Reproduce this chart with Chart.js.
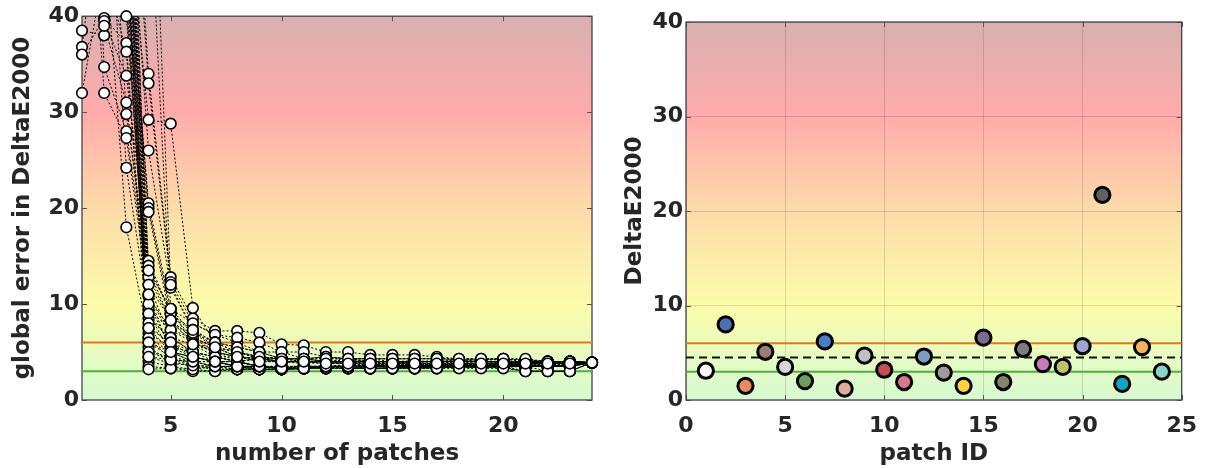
<!DOCTYPE html>
<html>
<head>
<meta charset="utf-8">
<script src="https://cdn.jsdelivr.net/npm/chart.js@4.4.1/dist/chart.umd.min.js"></script>
<style>
  body { margin: 0; background: #fff; }
  .panel { position: absolute; top: 0; width: 605px; height: 468px; }
</style>
</head>
<body>
<div class="panel" style="left:0"><canvas id="left"></canvas></div>
<div class="panel" style="left:605px"><canvas id="right"></canvas></div>
<script>
// number of patches used for the global error (left panel)
const nPatches = [1, 2, 3, 4, 5, 6, 7, 8, 9, 10, 11, 12, 13, 14, 15, 16, 17, 18, 19, 20, 21, 22, 23, 24];

// one row per run (above 40 is off the chart)
const globalErrorRuns = [
    [120, 85, 60, 12.8, 8.3, 6.5, 5.5, 5.0, 4.5, 4.3, 4.3, 4.0, 4.2, 4.0, 4.0, 4.1, 3.9, 3.9, 3.8, 3.9, 3.9, 4.0, 3.9, 3.9],
    [95, 70, 55, 9.5, 7.3, 6.0, 5.0, 4.5, 4.3, 4.3, 4.0, 4.0, 3.9, 3.8, 3.8, 4.0, 4.0, 3.9, 4.0, 3.9, 3.8, 3.9, 4.0, 3.9],
    [38.5, 38.0, 48, 7.0, 5.5, 5.0, 4.5, 4.0, 3.5, 3.2, 3.3, 3.5, 3.5, 3.3, 3.4, 3.5, 3.6, 3.7, 3.6, 3.8, 3.5, 3.5, 3.6, 3.9],
    [36.8, 55, 44, 5.0, 4.2, 4.0, 3.5, 3.5, 3.2, 3.2, 3.3, 3.5, 3.5, 3.6, 3.4, 3.4, 3.6, 3.6, 3.6, 3.5, 3.5, 3.6, 3.5, 3.9],
    [36.0, 39.8, 37.2, 4.5, 3.8, 3.6, 3.5, 3.2, 3.2, 3.2, 3.3, 3.5, 3.5, 3.3, 3.3, 3.3, 3.5, 3.5, 3.4, 3.5, 3.0, 3.0, 3.0, 3.9],
    [32.0, 45, 36.3, 6.0, 5.0, 4.5, 4.0, 3.5, 3.5, 3.3, 3.5, 3.5, 3.5, 3.5, 3.6, 3.5, 3.7, 3.6, 3.6, 3.7, 3.7, 3.8, 3.8, 3.9],
    [70, 39.5, 33.8, 14.5, 9.0, 7.3, 6.0, 5.0, 4.3, 4.3, 4.3, 4.0, 4.3, 4.0, 3.9, 4.0, 4.1, 4.0, 4.1, 4.3, 4.0, 4.0, 3.9, 3.9],
    [88, 39.0, 31.0, 11.0, 6.5, 5.8, 5.0, 4.5, 4.3, 4.0, 4.0, 4.0, 3.9, 4.0, 4.0, 4.0, 4.0, 4.0, 4.0, 4.0, 4.0, 3.9, 3.9, 3.9],
    [110, 66, 29.8, 13.5, 9.5, 8.0, 6.8, 6.0, 5.0, 4.3, 4.3, 4.5, 4.3, 4.3, 4.0, 4.0, 4.0, 4.2, 4.0, 4.0, 3.9, 3.9, 4.0, 3.9],
    [80, 34.7, 28.0, 12.0, 8.3, 6.5, 5.5, 4.5, 4.3, 4.0, 3.8, 3.9, 4.0, 4.0, 4.0, 3.8, 3.8, 3.8, 3.8, 3.9, 3.9, 3.9, 4.0, 3.9],
    [65, 32.0, 27.3, 10.8, 7.3, 6.5, 5.5, 5.0, 4.3, 4.0, 4.0, 4.0, 3.9, 3.9, 3.8, 3.8, 3.7, 3.8, 3.7, 3.8, 3.9, 3.8, 3.8, 3.9],
    [140, 90, 40.0, 8.5, 6.5, 5.0, 4.5, 4.0, 3.5, 3.3, 3.3, 3.3, 3.5, 3.3, 3.3, 3.4, 3.3, 3.5, 3.4, 3.5, 3.5, 3.5, 3.5, 3.9],
    [100, 60, 24.2, 9.0, 6.0, 4.5, 4.0, 4.0, 3.5, 3.3, 3.3, 3.5, 3.5, 3.5, 3.5, 3.6, 3.6, 3.6, 3.6, 3.6, 3.6, 3.5, 3.7, 3.9],
    [75, 48, 18.0, 6.5, 5.0, 4.0, 3.5, 3.2, 3.2, 3.2, 3.3, 3.3, 3.4, 3.3, 3.3, 3.3, 3.4, 3.5, 3.5, 3.5, 3.5, 3.5, 3.5, 3.9],
    [130, 95, 70, 34.0, 12.8, 8.5, 7.2, 7.2, 7.0, 5.8, 5.7, 5.0, 5.0, 4.7, 4.7, 4.7, 4.5, 4.3, 4.3, 4.3, 4.0, 4.0, 4.0, 3.9],
    [115, 80, 65, 33.0, 12.3, 8.0, 6.8, 6.5, 6.0, 5.0, 5.0, 4.5, 4.3, 4.3, 4.3, 4.3, 4.3, 4.2, 4.2, 4.2, 4.2, 4.0, 4.0, 3.9],
    [90, 75, 52, 29.2, 28.8, 9.6, 6.0, 5.5, 5.0, 4.3, 4.3, 4.0, 4.0, 4.0, 4.0, 4.0, 4.0, 4.1, 4.0, 4.0, 4.0, 4.0, 4.0, 3.9],
    [105, 72, 58, 26.0, 11.7, 7.3, 5.5, 5.0, 4.5, 4.3, 4.0, 4.0, 4.0, 4.0, 3.9, 3.9, 4.0, 4.0, 4.0, 3.9, 3.9, 4.0, 4.0, 3.9],
    [85, 62, 47, 20.5, 9.5, 7.0, 5.5, 4.5, 4.3, 4.0, 4.0, 4.0, 3.8, 3.8, 3.8, 3.8, 3.8, 3.8, 3.8, 3.8, 3.9, 3.9, 3.9, 3.9],
    [92, 68, 50, 20.0, 9.0, 6.5, 5.0, 4.5, 4.0, 4.0, 4.0, 3.8, 3.8, 3.7, 3.7, 3.7, 3.7, 3.7, 3.7, 3.7, 3.8, 3.8, 3.8, 3.9],
    [78, 58, 43, 19.6, 8.3, 6.0, 5.0, 4.0, 3.5, 3.5, 3.5, 3.5, 3.6, 3.6, 3.6, 3.6, 3.6, 3.6, 3.6, 3.7, 3.7, 3.7, 3.7, 3.9],
    [125, 88, 62, 14.0, 9.0, 7.0, 6.0, 5.5, 5.0, 5.0, 4.3, 4.3, 4.3, 4.0, 4.0, 4.0, 4.0, 4.0, 4.0, 4.0, 4.0, 4.0, 4.0, 3.9],
    [98, 76, 66, 13.5, 8.3, 5.8, 4.5, 4.0, 3.5, 3.3, 3.3, 3.5, 3.5, 3.5, 3.5, 3.3, 3.3, 3.5, 3.5, 3.5, 3.5, 3.5, 3.6, 3.9],
    [112, 84, 57, 12.0, 6.5, 5.0, 4.0, 3.5, 3.2, 3.2, 3.3, 3.3, 3.3, 3.3, 3.3, 3.5, 3.5, 3.5, 3.5, 3.5, 3.5, 3.5, 3.6, 3.9],
    [84, 63, 46, 10.0, 5.5, 4.5, 4.0, 3.5, 3.5, 3.3, 3.3, 3.4, 3.5, 3.5, 3.4, 3.4, 3.5, 3.5, 3.5, 3.5, 3.5, 3.5, 3.5, 3.9],
    [72, 52, 41, 9.0, 5.0, 4.0, 3.5, 3.5, 3.2, 3.2, 3.3, 3.3, 3.3, 3.3, 3.3, 3.3, 3.4, 3.4, 3.4, 3.4, 3.5, 3.0, 3.0, 3.9],
    [135, 100, 75, 8.0, 5.5, 5.0, 4.5, 4.0, 4.3, 4.0, 4.0, 4.0, 4.0, 4.0, 4.0, 4.0, 4.0, 4.0, 4.0, 4.0, 4.0, 4.0, 4.0, 3.9],
    [108, 82, 53, 7.5, 5.0, 4.5, 4.0, 3.5, 3.5, 3.3, 3.5, 3.5, 3.5, 3.5, 3.6, 3.6, 3.6, 3.6, 3.6, 3.6, 3.6, 3.6, 3.7, 3.9],
    [93, 74, 45, 6.5, 4.2, 3.6, 3.2, 3.2, 3.2, 3.2, 3.3, 3.5, 3.3, 3.3, 3.3, 3.4, 3.4, 3.4, 3.4, 3.4, 3.0, 3.0, 3.0, 3.9],
    [87, 66, 51, 5.5, 4.0, 3.5, 3.2, 3.2, 3.5, 3.3, 3.5, 3.5, 3.5, 3.6, 3.6, 3.6, 3.7, 3.7, 3.7, 3.7, 3.8, 3.8, 3.8, 3.9],
    [120, 92, 68, 4.0, 3.5, 3.2, 3.0, 3.2, 3.2, 3.2, 3.3, 3.5, 3.5, 3.5, 3.5, 3.5, 3.5, 3.5, 3.5, 3.5, 3.5, 3.5, 3.5, 3.9],
    [76, 57, 49, 3.5, 3.3, 3.0, 3.0, 3.2, 3.2, 3.2, 3.3, 3.3, 3.3, 3.3, 3.3, 3.3, 3.5, 3.5, 3.5, 3.5, 3.5, 3.5, 3.5, 3.9],
    [101, 78, 54, 3.2, 3.3, 3.2, 3.5, 3.5, 3.5, 3.5, 3.5, 3.5, 3.5, 3.6, 3.6, 3.6, 3.6, 3.6, 3.6, 3.6, 3.6, 3.6, 3.6, 3.9],
    [68, 50, 42, 7.5, 6.0, 5.0, 4.5, 4.5, 4.3, 4.3, 4.3, 4.5, 4.3, 4.3, 4.3, 4.3, 4.3, 4.2, 4.2, 4.3, 4.2, 4.0, 4.0, 3.9],
    [118, 86, 61, 6.0, 4.5, 4.0, 4.0, 4.0, 3.5, 3.3, 3.5, 3.5, 3.5, 3.5, 3.5, 3.5, 3.5, 3.5, 3.5, 3.5, 3.5, 3.5, 3.5, 3.9],
    [96, 71, 56, 5.0, 4.5, 3.6, 3.5, 3.5, 3.5, 3.5, 3.5, 3.5, 3.7, 3.7, 3.7, 3.7, 3.7, 3.7, 3.7, 3.7, 3.7, 3.7, 3.7, 3.9],
    [104, 83, 48, 4.5, 4.2, 4.0, 4.0, 4.0, 4.3, 4.0, 4.0, 4.0, 4.0, 4.0, 4.0, 4.0, 4.0, 4.0, 4.0, 4.0, 4.0, 4.0, 4.0, 3.9],
    [82, 64, 59, 11.0, 5.0, 4.5, 4.0, 3.5, 3.5, 3.3, 3.3, 3.5, 3.5, 3.3, 3.3, 3.3, 3.3, 3.3, 3.3, 3.3, 3.0, 3.0, 3.0, 3.9],
    [128, 97, 72, 70, 12.0, 7.3, 6.0, 5.0, 4.5, 4.3, 4.3, 4.3, 4.3, 4.3, 4.3, 4.3, 4.3, 4.3, 4.3, 4.3, 4.3, 4.0, 4.0, 3.9],
    [112, 90, 80, 55, 9.5, 5.8, 5.5, 4.5, 4.0, 4.0, 4.0, 3.8, 3.8, 3.8, 3.8, 3.8, 3.8, 3.8, 3.8, 3.8, 3.8, 3.8, 3.8, 3.9]
];

// right panel: error of each patch
const patchIds = [1, 2, 3, 4, 5, 6, 7, 8, 9, 10, 11, 12, 13, 14, 15, 16, 17, 18, 19, 20, 21, 22, 23, 24];
const patchErrors = [3.1, 8.0, 1.5, 5.1, 3.5, 2.0, 6.2, 1.2, 4.7, 3.2, 1.9, 4.6, 2.9, 1.5, 6.6, 1.9, 5.4, 3.8, 3.5, 5.7, 21.7, 1.7, 5.6, 3.0];
const patchColors = ['#f7f7f7', '#4a70b5', '#e58c5a', '#9c7d70', '#d6d6d6', '#6aa05c', '#4d7cc8', '#dcae9a',
                     '#c0c0c0', '#c5504f', '#d9788a', '#7b9bc0', '#9d9d9d', '#fad23c', '#7a6b95', '#7f8567',
                     '#7d7d7d', '#c77cb9', '#c0c468', '#9fa4d0', '#606060', '#0ba8c4', '#f4b35a', '#8cd4c6'];

// thresholds and mean
const upperLimit = 6;
const lowerLimit = 3;
const meanError = 4.5;

const yTicks = [0, 10, 20, 30, 40];
const leftXTicks = [5, 10, 15, 20];
const rightXTicks = [0, 5, 10, 15, 20, 25];

const textColor = '#262626';
const tickFont = { family: 'DejaVu Sans', size: 22, weight: 'bold' };
const titleFont = { family: 'DejaVu Sans', size: 23, weight: 'bold' };

// background gradient + box with inward ticks
const backgroundPlugin = {
    id: 'backgroundPlugin',
    beforeDraw(chart) {
        const { ctx, chartArea: a } = chart;
        const g = ctx.createLinearGradient(0, a.bottom, 0, a.top);
        g.addColorStop(0, 'rgb(214,250,208)');
        g.addColorStop(0.1, 'rgb(228,251,196)');
        g.addColorStop(0.25, 'rgb(252,252,170)');
        g.addColorStop(0.5, 'rgb(253,219,170)');
        g.addColorStop(0.75, 'rgb(255,171,171)');
        g.addColorStop(1, 'rgb(216,176,176)');
        ctx.save();
        ctx.fillStyle = g;
        ctx.fillRect(a.left, a.top, a.width, a.height);
        ctx.restore();
    },
    beforeDatasetsDraw(chart) {
        const { ctx, chartArea: a, scales } = chart;
        ctx.save();
        ctx.strokeStyle = '#555';
        ctx.lineWidth = 1;
        ctx.beginPath();
        scales.x.ticks.forEach(t => {
            const px = Math.round(scales.x.getPixelForValue(t.value)) + 0.5;
            ctx.moveTo(px, a.bottom); ctx.lineTo(px, a.bottom - 5);
            ctx.moveTo(px, a.top); ctx.lineTo(px, a.top + 5);
        });
        scales.y.ticks.forEach(t => {
            const py = Math.round(scales.y.getPixelForValue(t.value)) + 0.5;
            ctx.moveTo(a.left, py); ctx.lineTo(a.left + 5, py);
            ctx.moveTo(a.right, py); ctx.lineTo(a.right - 5, py);
        });
        ctx.stroke();
        ctx.strokeStyle = '#444';
        ctx.lineWidth = 1.3;
        ctx.strokeRect(a.left, a.top, a.width, a.height);
        ctx.restore();
    }
};

function makeScales(xMin, xMax, xTicks, xTitle, yTitle, yWidth, showGrid, yTitlePad) {
    return {
        x: {
            type: 'linear',
            min: xMin,
            max: xMax,
            afterBuildTicks: s => { s.ticks = xTicks.map(v => ({ value: v })); },
            afterFit: s => { s.height = 68; },
            grid: { display: showGrid, color: 'rgba(0,0,0,0.13)', drawTicks: false },
            border: { display: false },
            ticks: { color: textColor, font: tickFont, padding: 13, maxRotation: 0 },
            title: { display: true, text: xTitle, color: textColor, font: titleFont, padding: { top: 0, bottom: 0 } }
        },
        y: {
            min: 0,
            max: 40,
            afterBuildTicks: s => { s.ticks = yTicks.map(v => ({ value: v })); },
            afterFit: s => { s.width = yWidth; },
            grid: { display: showGrid, color: 'rgba(0,0,0,0.13)', drawTicks: false },
            border: { display: false },
            ticks: { color: textColor, font: tickFont, padding: 3 },
            title: { display: true, text: yTitle, color: textColor, font: titleFont, padding: { top: yTitlePad, bottom: 0 } }
        }
    };
}

// left panel datasets
const leftDatasets = [];
[upperLimit, lowerLimit].forEach((lim, i) => {
    leftDatasets.push({
        type: 'line',
        data: [{ x: nPatches[0], y: lim }, { x: nPatches[nPatches.length - 1], y: lim }],
        borderColor: i === 0 ? '#e0781e' : '#4fae3c',
        borderWidth: 2,
        pointRadius: 0,
        order: 3
    });
});
globalErrorRuns.forEach(run => {
    leftDatasets.push({
        type: 'line',
        data: run.map((v, i) => ({ x: nPatches[i], y: v })),
        borderColor: '#000',
        borderWidth: 1,
        borderDash: [2, 2],
        pointRadius: 0,
        clip: { left: 0, top: 0, right: 0, bottom: 0 },
        order: 2
    });
});
leftDatasets.push({
    type: 'scatter',
    data: globalErrorRuns.flatMap(run => run.map((v, i) => ({ x: nPatches[i], y: v }))).filter(p => p.y <= 40),
    backgroundColor: '#fff',
    borderColor: '#000',
    borderWidth: 1.6,
    pointRadius: 5.3,
    clip: false,
    order: 1
});

new Chart(document.getElementById('left'), {
    type: 'line',
    data: { datasets: leftDatasets },
    options: {
        responsive: true,
        maintainAspectRatio: false,
        animation: false,
        events: [],
        layout: { padding: { top: 15, right: 13, left: 0, bottom: 0 } },
        plugins: { legend: { display: false }, tooltip: { enabled: false } },
        scales: makeScales(1, 24, leftXTicks, 'number of patches', 'global error in DeltaE2000', 82, false, 9)
    },
    plugins: [backgroundPlugin]
});

// right panel datasets
const rightDatasets = [
    {
        type: 'line',
        data: [{ x: 0, y: upperLimit }, { x: 25, y: upperLimit }],
        borderColor: '#e0781e', borderWidth: 2, pointRadius: 0, order: 3
    },
    {
        type: 'line',
        data: [{ x: 0, y: lowerLimit }, { x: 25, y: lowerLimit }],
        borderColor: '#4fae3c', borderWidth: 2, pointRadius: 0, order: 3
    },
    {
        type: 'line',
        data: [{ x: 0, y: meanError }, { x: 25, y: meanError }],
        borderColor: '#111', borderWidth: 1.8, borderDash: [8, 5], pointRadius: 0, order: 2
    },
    {
        type: 'scatter',
        data: patchIds.map((id, i) => ({ x: id, y: patchErrors[i] })),
        backgroundColor: patchColors,
        borderColor: '#000',
        borderWidth: 3,
        pointRadius: 7.6,
        clip: false,
        order: 1
    }
];

new Chart(document.getElementById('right'), {
    type: 'line',
    data: { datasets: rightDatasets },
    options: {
        responsive: true,
        maintainAspectRatio: false,
        animation: false,
        events: [],
        layout: { padding: { top: 22, right: 27, left: 0, bottom: 0 } },
        plugins: { legend: { display: false }, tooltip: { enabled: false } },
        scales: makeScales(0, 25, rightXTicks, 'patch ID', 'DeltaE2000', 81, true, 16)
    },
    plugins: [backgroundPlugin]
});
</script>
</body>
</html>
